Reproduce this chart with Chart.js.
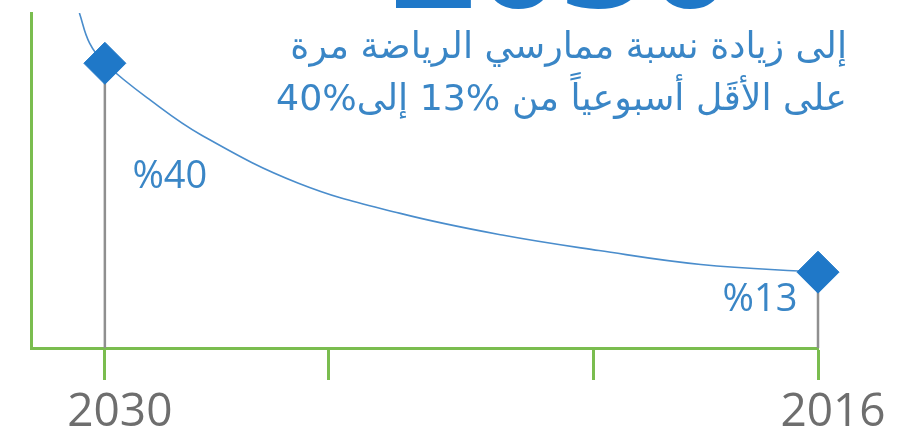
<!DOCTYPE html>
<html lang="ar">
<head>
<meta charset="utf-8">
<script src="https://cdn.jsdelivr.net/npm/chart.js@4.4.1/dist/chart.umd.min.js"></script>
<style>
  html, body { margin: 0; padding: 0; background: #fff; }
  #wrap { width: 899px; height: 437px; position: relative; }
</style>
</head>
<body>
<div id="wrap"><canvas id="myChart"></canvas></div>
<script>
// valeurs
const years = [2030, 2016];
const values = [40, 13];
const tickYears = [2030, 2025.6, 2020.4, 2016];
const tickLabels = ['2030', '', '', '2016'];

// courbe décorative, points
const curveYears = [2030.5, 2030.3, 2030, 2029.1, 2028.1, 2026.2, 2024.2, 2022.2, 2020.3, 2018.3, 2016];
const curveValues = [46.5, 42.6, 40, 35.2, 30.7, 24.5, 20.6, 17.8, 15.8, 14.0, 13];

// textes
const headline = '2030';
const textLines = ['إلى زيادة نسبة ممارسي الرياضة مرة', 'على الأقَل أسبوعياً من %13 إلى%40'];

const GREEN = '#7abd4f';
const BLUE = '#1f78c8';
const TEXT_BLUE = '#3a86c6';

// décalage des étiquettes %40 / %13 par rapport au losange
const labelShift = [{ dx: 65, dy: 114 }, { dx: -58, dy: 28 }];

const decor = {
  id: 'decor',
  beforeDatasetsDraw(chart) {
    // traits gris du losange jusqu'à l'axe
    const ctx = chart.ctx;
    const bottom = chart.chartArea.bottom;
    ctx.save();
    ctx.strokeStyle = '#8f8f8f';
    ctx.lineWidth = 2.5;
    chart.getDatasetMeta(1).data.forEach(p => {
      ctx.beginPath();
      ctx.moveTo(p.x, p.y);
      ctx.lineTo(p.x, bottom);
      ctx.stroke();
    });
    ctx.restore();
  },
  afterDatasetsDraw(chart) {
    const ctx = chart.ctx;
    ctx.save();
    ctx.fillStyle = TEXT_BLUE;
    ctx.font = '38px "Open Sans"';
    ctx.textAlign = 'center';
    ctx.textBaseline = 'middle';
    chart.getDatasetMeta(1).data.forEach((p, i) => {
      ctx.fillText('%' + values[i], p.x + labelShift[i].dx, p.y + labelShift[i].dy);
    });
    ctx.restore();
  },
  afterDraw(chart) {
    const ctx = chart.ctx;
    ctx.save();
    // gros titre coupé en haut
    ctx.fillStyle = BLUE;
    ctx.font = 'bold 150px "Open Sans"';
    ctx.textAlign = 'right';
    ctx.textBaseline = 'alphabetic';
    ctx.fillText(headline, 733, 8);

    // texte arabe
    ctx.direction = 'rtl';
    ctx.fillStyle = TEXT_BLUE;
    ctx.font = '32px "DejaVu Sans"';
    const w = ctx.measureText(textLines[0]).width;
    const size = 32 * 557 / w;
    ctx.font = size.toFixed(1) + 'px "DejaVu Sans"';
    ctx.textAlign = 'right';
    ctx.fillText(textLines[0], 847, 58);
    ctx.fillText(textLines[1], 847, 110);
    ctx.restore();
  }
};

const ctx = document.getElementById('myChart');

new Chart(ctx, {
  type: 'line',
  data: {
    datasets: [
      {
        label: 'courbe',
        data: curveYears.map((x, i) => ({ x: x, y: curveValues[i] })),
        borderColor: '#4a8dcc',
        borderWidth: 1.6,
        pointRadius: 0,
        tension: 0.4,
        order: 2
      },
      {
        label: 'taux',
        data: years.map((x, i) => ({ x: x, y: values[i] })),
        showLine: false,
        pointStyle: 'rectRot',
        pointRadius: 21,
        pointHoverRadius: 21,
        backgroundColor: BLUE,
        borderColor: BLUE,
        borderWidth: 1,
        clip: false,
        order: 1
      }
    ]
  },
  options: {
    responsive: true,
    maintainAspectRatio: false,
    animation: false,
    layout: { autoPadding: false, padding: { left: 31, right: 81, top: 13, bottom: -9 } },
    plugins: {
      legend: { display: false },
      tooltip: { enabled: false }
    },
    scales: {
      x: {
        type: 'linear',
        reverse: true,
        min: 2016,
        max: 2031.45,
        afterBuildTicks: s => { s.ticks = tickYears.map(v => ({ value: v })); },
        ticks: {
          callback: (v, i) => tickLabels[i],
          color: '#6e6e6e',
          font: { family: 'Open Sans', size: 46, lineHeight: 1 },
          padding: 10,
          labelOffset: 15,
          maxRotation: 0,
          autoSkip: false
        },
        grid: { drawOnChartArea: false, drawTicks: true, tickLength: 32, tickColor: GREEN, tickWidth: 3 },
        border: { display: true, color: GREEN, width: 3 }
      },
      y: {
        min: 3.2,
        max: 46.5,
        ticks: { display: false },
        grid: { display: false, drawTicks: false },
        border: { display: true, color: GREEN, width: 3 }
      }
    }
  },
  plugins: [decor]
});
</script>
</body>
</html>
